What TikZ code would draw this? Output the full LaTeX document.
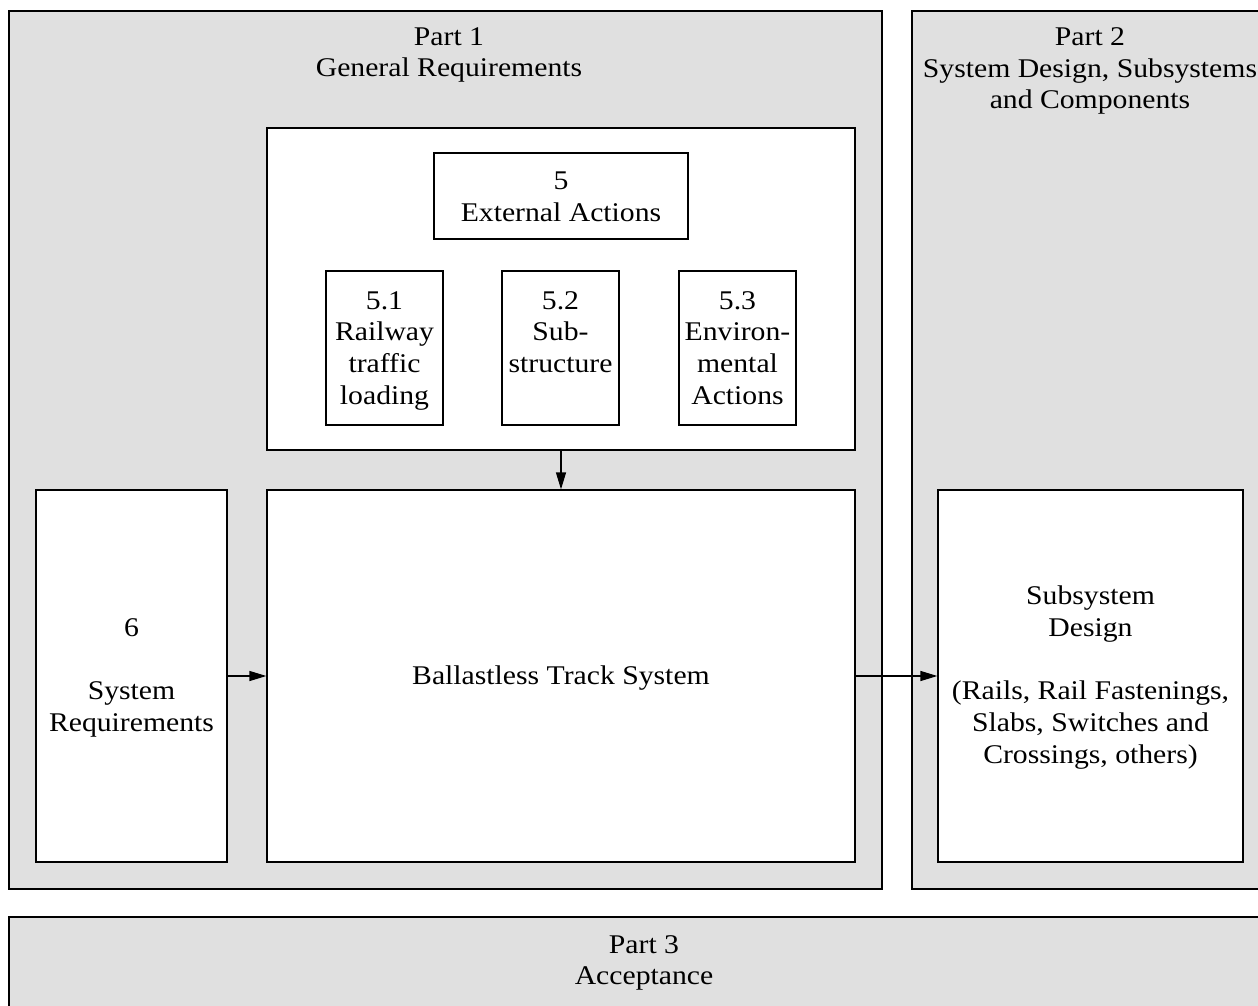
\documentclass[tikz,border=0pt]{standalone}
\usepackage{fontspec}
\setmainfont{Liberation Serif}[FakeStretch=1.1]
\usetikzlibrary{arrows.meta}
\definecolor{partgray}{HTML}{E0E0E0}
\tikzset{
  partbox/.style={draw=black, line width=1.3pt, fill=partgray, rectangle, inner sep=0pt},
  whitebox/.style={draw=black, line width=1.3pt, fill=white, rectangle, inner sep=0pt, align=center},
  lbl/.style={align=center, inner sep=0pt},
  arr/.style={line width=1.3pt, -{Triangle[length=17pt,width=10pt]}}
}
\begin{document}
\begin{tikzpicture}[x=1pt,y=-1pt, font=\fontsize{27pt}{31.7pt}\selectfont]
\useasboundingbox (0,0) rectangle (1258,1006);
\clip (0,0) rectangle (1258,1006);
\fill[white] (0,0) rectangle (1258,1006);
% parts
\node[partbox, minimum width=873pt, minimum height=878pt] (part1) at (445.5,450) {};
\node[partbox, minimum width=356pt, minimum height=878pt] (part2) at (1090,450) {};
\node[partbox, minimum width=1270pt, minimum height=113pt] (part3) at (644,973.5) {};
\node[lbl] (part1t) at (449,55) {Part 1\\General Requirements};
\node[lbl] (part2t) at (1090,71) {Part 2\\System Design, Subsystems\\and Components};
\node[lbl] (part3t) at (644,963) {Part 3\\Acceptance};
% external actions
\node[whitebox, minimum width=588pt, minimum height=322pt] (cont) at (561,289) {};
\node[whitebox, minimum width=254pt, minimum height=86pt] (ext) at (561,196) {};
\node[lbl] (extt) at (561,197) {5\\External Actions};
\node[whitebox, minimum width=117pt, minimum height=154pt] (b51) at (384.5,348) {};
\node[whitebox, minimum width=117pt, minimum height=154pt] (b52) at (560.5,348) {};
\node[whitebox, minimum width=117pt, minimum height=154pt] (b53) at (737.5,348) {};
\node[lbl, anchor=north] (t51) at (384.5,291) {5.1\\Railway\\traffic\\loading};
\node[lbl, anchor=north] (t52) at (560.5,291) {5.2\\Sub-\\structure};
\node[lbl, anchor=north] (t53) at (737.5,291) {5.3\\Environ-\\mental\\Actions};
% lower boxes
\node[whitebox, minimum width=191pt, minimum height=372pt] (sysreq) at (131.5,676) {};
\node[lbl] (sysreqt) at (131.5,678) {6\\\mbox{}\\System\\Requirements};
\node[whitebox, minimum width=588pt, minimum height=372pt] (ballast) at (561,676) {};
\node[lbl] (ballastt) at (561,678) {Ballastless Track System};
\node[whitebox, minimum width=305pt, minimum height=372pt] (subsys) at (1090.5,676) {};
\node[lbl] (subsyst) at (1090.5,677.5) {Subsystem\\Design\\\mbox{}\\(Rails, Rail Fastenings,\\Slabs, Switches and\\Crossings, others)};
% connectors
\draw[arr] (cont.south) -- (ballast.north);
\draw[arr] (sysreq.east) -- (ballast.west);
\draw[arr] (ballast.east) -- (subsys.west);
\end{tikzpicture}
\end{document}
